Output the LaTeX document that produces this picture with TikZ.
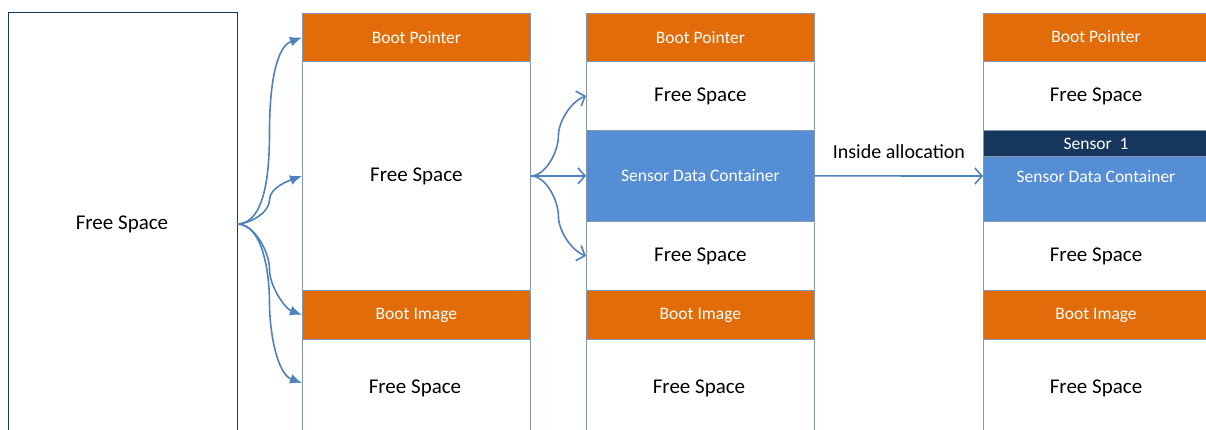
\documentclass[tikz,border=0pt]{standalone}
\usepackage{fontspec}
\setmainfont{Carlito}
\usetikzlibrary{arrows.meta,calc}
\definecolor{orng}{RGB}{227,108,10}
\definecolor{sblue}{RGB}{85,142,213}
\definecolor{navy}{RGB}{23,54,93}
\definecolor{arr}{RGB}{79,129,189}
\definecolor{cellborder}{RGB}{132,151,176}
\newcommand{\bigf}{\fontsize{21}{24}\selectfont}
\newcommand{\smf}{\fontsize{17.5}{20}\selectfont}
\tikzset{
  cell/.style={rectangle, draw=cellborder, line width=0.8pt, anchor=north west, inner sep=0pt, minimum width=228pt},
  hdr/.style={cell, fill=orng, text=white, font=\smf, minimum height=48pt},
  free/.style={cell, fill=white, text=black, font=\bigf},
  sdc/.style={cell, fill=sblue, text=white, font=\smf},
  farrow/.style={draw=arr, line width=1.6pt, -{Latex[length=12pt,width=10pt]}},
  oarrow/.style={draw=arr, line width=1.6pt, -{Straight Barb[length=7pt,width=16pt,line width=1.6pt]}},
}
\begin{document}
\begin{tikzpicture}[x=1pt,y=-1pt]
\useasboundingbox (0,0) rectangle (1206,430);
% left box
\node[rectangle, draw=navy, line width=1pt, anchor=north west, inner sep=0pt, minimum width=229pt, minimum height=430pt] (L) at (8,12) {};
\node[font=\bigf] (Lt) at (122,224) {Free Space};
% column 2
\node[hdr] (a1) at (302,13) {Boot Pointer};
\node[free, minimum height=229pt] (a2) at (302,61) {Free Space};
\node[hdr, minimum height=49pt] (a3) at (302,290) {Boot Image};
\node[free, minimum height=100pt] (a4) at (302,339) {};
\node[font=\bigf] at (415,388) {Free Space};
% column 3
\node[hdr] (b1) at (586,13) {Boot Pointer};
\node[free, minimum height=69pt] (b2) at (586,61) {Free Space};
\node[sdc, minimum height=91pt] (b3) at (586,130) {Sensor Data Container};
\node[free, minimum height=69pt] (b4) at (586,221) {Free Space};
\node[hdr, minimum height=49pt] (b5) at (586,290) {Boot Image};
\node[free, minimum height=100pt] (b6) at (586,339) {};
\node[font=\bigf] at (699,388) {Free Space};
% column 4
\node[hdr, minimum width=240pt] (c1) at (983,13) {};
\node[text=white, font=\smf] at (1096,37) {Boot Pointer};
\node[free, minimum width=240pt, minimum height=69pt] (c2) at (983,61) {};
\node[font=\bigf] at (1096,96) {Free Space};
\node[cell, fill=navy, minimum width=240pt, minimum height=26pt] (c3) at (983,130) {};
\node[text=white, font=\smf] at (1096,143.5) {Sensor\ \ 1};
\node[sdc, minimum width=240pt, minimum height=65pt] (c4) at (983,156) {};
\node[text=white, font=\smf] at (1096,177) {Sensor Data Container};
\node[free, minimum width=240pt, minimum height=69pt] (c5) at (983,221) {};
\node[font=\bigf] at (1096,256) {Free Space};
\node[hdr, minimum width=240pt, minimum height=49pt] (c6) at (983,290) {};
\node[text=white, font=\smf] at (1096,315) {Boot Image};
\node[free, minimum width=240pt, minimum height=100pt] (c7) at (983,339) {};
\node[font=\bigf] at (1096,388) {Free Space};
% arrows from left box
\coordinate (s) at (237,224);
\foreach \t in {a1,a2} {
  \draw[farrow] (s) to[out=0,in=-90,looseness=0.8] ($(s)!0.5!(\t.west)$) to[out=90,in=200,looseness=0.8] (\t.west);
}
\coordinate (a4w) at (302,383);
\draw[farrow] (s) to[out=0,in=90,looseness=0.8] ($(s)!0.5!(a4w)$) to[out=-90,in=160,looseness=0.8] (a4w);
\draw[farrow] (s) to[out=0,in=90,looseness=0.8] ($(s)!0.5!(a3.west)$) to[out=-90,in=160,looseness=0.8] (a3.west);
% arrows to column 3
\coordinate (s2) at (a2.east);
\draw[oarrow] (s2) to[out=0,in=-90,looseness=0.8] ($(s2)!0.5!(b2.west)$) to[out=90,in=200,looseness=0.8] (b2.west);
\draw[oarrow] (s2) -- (b3.west);
\draw[oarrow] (s2) to[out=0,in=90,looseness=0.8] ($(s2)!0.5!(b4.west)$) to[out=-90,in=160,looseness=0.8] (b4.west);
% inside allocation
\coordinate (ct) at (983,176);
\draw[oarrow] (b3.east) -- node[above=13pt, text=black, font=\fontsize{20}{23}\selectfont] {Inside allocation} (ct);
\end{tikzpicture}
\end{document}
